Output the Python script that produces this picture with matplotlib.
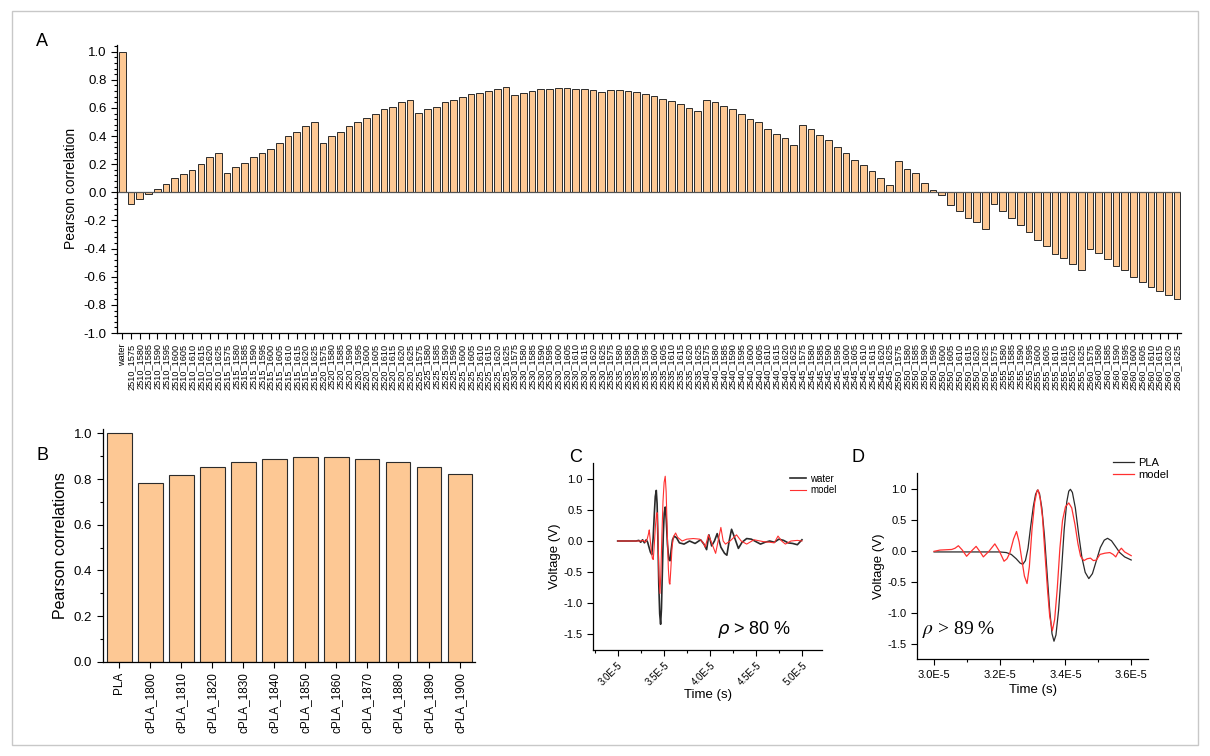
import numpy as np
import matplotlib
matplotlib.use('Agg')
import matplotlib.pyplot as plt
from matplotlib.ticker import AutoMinorLocator, MultipleLocator, FuncFormatter
from matplotlib.patches import Rectangle

plt.rcParams['font.family'] = ['Liberation Sans', 'DejaVu Sans']

# ---- panel A: correlation per parameter pair ----
groups = [2510, 2515, 2520, 2525, 2530, 2535, 2540, 2545, 2550, 2555, 2560]
subs = [1575, 1580, 1585, 1590, 1595, 1600, 1605, 1610, 1615, 1620, 1625]
labels_a = ['water'] + [f'{g}_{s}' for g in groups for s in subs]

corr_water = [1.0]
corr_2510 = [-0.08, -0.05, -0.01, 0.024, 0.059, 0.10, 0.13, 0.16, 0.20, 0.25, 0.28]
corr_2515 = [0.137, 0.18, 0.21, 0.25, 0.28, 0.31, 0.35, 0.40, 0.43, 0.47, 0.50]
corr_2520 = [0.35, 0.40, 0.43, 0.47, 0.50, 0.53, 0.56, 0.59, 0.61, 0.64, 0.66]
corr_2525 = [0.565, 0.59, 0.61, 0.64, 0.66, 0.68, 0.70, 0.71, 0.72, 0.733, 0.747]
corr_2530 = [0.69, 0.71, 0.72, 0.733, 0.738, 0.74, 0.74, 0.738, 0.733, 0.726, 0.714]
corr_2535 = [0.726, 0.726, 0.72, 0.714, 0.70, 0.686, 0.667, 0.65, 0.63, 0.60, 0.577]
corr_2540 = [0.66, 0.64, 0.617, 0.59, 0.56, 0.52, 0.50, 0.45, 0.416, 0.39, 0.34]
corr_2545 = [0.478, 0.45, 0.41, 0.37, 0.32, 0.28, 0.23, 0.196, 0.149, 0.10, 0.05]
corr_2550 = [0.22, 0.168, 0.135, 0.07, 0.02, -0.02, -0.09, -0.13, -0.18, -0.21, -0.26]
corr_2555 = [-0.085, -0.13, -0.18, -0.23, -0.28, -0.34, -0.38, -0.44, -0.47, -0.51, -0.555]
corr_2560 = [-0.40, -0.43, -0.475, -0.525, -0.555, -0.605, -0.636, -0.67, -0.70, -0.73, -0.76]
corr_a = (corr_water + corr_2510 + corr_2515 + corr_2520 + corr_2525 + corr_2530
          + corr_2535 + corr_2540 + corr_2545 + corr_2550 + corr_2555 + corr_2560)

# ---- panel B ----
labels_b = ['PLA', 'cPLA_1800', 'cPLA_1810', 'cPLA_1820', 'cPLA_1830', 'cPLA_1840',
            'cPLA_1850', 'cPLA_1860', 'cPLA_1870', 'cPLA_1880', 'cPLA_1890', 'cPLA_1900']
corr_b = [1.0, 0.781, 0.819, 0.851, 0.873, 0.888, 0.896, 0.896, 0.888, 0.873, 0.851, 0.823]

# ---- panel C: water signal vs model (time in 1E-5 s) ----
water_t = [3.00, 3.20, 3.23, 3.25, 3.27, 3.29, 3.31, 3.325, 3.34, 3.355, 3.37, 3.385,
           3.398, 3.408, 3.419, 3.428, 3.437, 3.446, 3.456, 3.466, 3.475, 3.485, 3.495,
           3.505, 3.516, 3.527, 3.54, 3.555, 3.568, 3.58, 3.595, 3.615, 3.64, 3.67,
           3.72, 3.78, 3.84, 3.90, 3.94, 3.965, 3.99, 4.02, 4.05, 4.08, 4.12, 4.16,
           4.185, 4.21, 4.236, 4.27, 4.31, 4.35, 4.40, 4.45, 4.50, 4.55, 4.60, 4.65,
           4.70, 4.75, 4.80, 4.85, 4.90, 4.95, 5.00]
water_v = [0.0, 0.0, 0.01, -0.02, 0.02, -0.03, 0.02, -0.02, -0.10, -0.18, -0.22, 0.05,
           0.45, 0.72, 0.82, 0.60, 0.0, -0.70, -1.18, -1.35, -1.10, -0.50, 0.10,
           0.45, 0.55, 0.35, -0.05, -0.30, -0.32, -0.15, 0.02, 0.08, 0.05, -0.03,
           -0.05, 0.0, -0.04, 0.02, -0.06, -0.14, 0.1, -0.08, 0.0, 0.12, -0.1, -0.2,
           -0.23, 0.0, 0.19, 0.05, -0.12, -0.02, 0.04, 0.03, -0.01, -0.05, -0.02, 0.0,
           -0.02, 0.03, 0.01, -0.03, -0.04, -0.06, 0.02]
model_c_t = [3.00, 3.25, 3.28, 3.30, 3.32, 3.335, 3.343, 3.353, 3.365, 3.376, 3.386,
             3.398, 3.41, 3.422, 3.429, 3.437, 3.448, 3.459, 3.468, 3.48, 3.492, 3.504,
             3.516, 3.526, 3.538, 3.55, 3.56, 3.567, 3.577, 3.59, 3.605, 3.629, 3.65,
             3.70, 3.75, 3.82, 3.89, 3.93, 3.95, 3.985, 4.02, 4.063, 4.09, 4.12, 4.145,
             4.17, 4.22, 4.29, 4.34, 4.40, 4.48, 4.58, 4.65, 4.70, 4.74, 4.78, 4.82,
             4.88, 4.95, 5.00]
model_c_v = [0.0, 0.0, 0.01, -0.02, 0.03, 0.12, 0.18, 0.02, -0.15, -0.28, -0.30,
             -0.05, 0.25, 0.45, 0.46, 0.10, -0.55, -0.85, -0.55, 0.10, 0.65, 0.95,
             1.05, 0.80, 0.15, -0.45, -0.68, -0.70, -0.45, -0.10, 0.07, 0.13, 0.06,
             0.0, 0.03, 0.04, 0.03, -0.03, -0.1, 0.1, -0.03, -0.2, 0.0, 0.22, 0.0,
             -0.05, 0.0, 0.1, 0.0, -0.05, 0.02, -0.01, -0.02, -0.03, 0.08, 0.0, -0.05,
             0.0, 0.01, 0.0]

# ---- panel D: PLA signal vs model ----
pla_t = [3.000, 3.100, 3.200, 3.220, 3.235, 3.250, 3.262, 3.270, 3.278, 3.286, 3.294,
         3.302, 3.309, 3.315, 3.321, 3.328, 3.336, 3.344, 3.352, 3.359, 3.365, 3.371,
         3.379, 3.388, 3.396, 3.404, 3.410, 3.415, 3.421, 3.430, 3.440, 3.450, 3.460,
         3.471, 3.482, 3.494, 3.506, 3.518, 3.528, 3.540, 3.552, 3.565, 3.580, 3.600]
pla_v = [-0.01, -0.01, -0.01, -0.02, -0.05, -0.12, -0.19, -0.21, -0.15, 0.05, 0.40,
         0.72, 0.92, 0.99, 0.93, 0.70, 0.25, -0.35, -0.95, -1.33, -1.45, -1.35,
         -0.95, -0.30, 0.35, 0.80, 0.97, 1.0, 0.95, 0.70, 0.28, -0.10, -0.34,
         -0.44, -0.36, -0.15, 0.06, 0.18, 0.21, 0.17, 0.08, -0.02, -0.09, -0.14]
model_d_t = [3.000, 3.018, 3.054, 3.064, 3.074, 3.086, 3.099, 3.113, 3.128, 3.139,
             3.150, 3.167, 3.185, 3.199, 3.213, 3.222, 3.231, 3.242, 3.251, 3.259,
             3.267, 3.275, 3.283, 3.290, 3.298, 3.306, 3.313, 3.317, 3.323, 3.330,
             3.337, 3.345, 3.352, 3.360, 3.367, 3.375, 3.383, 3.391, 3.400, 3.410,
             3.419, 3.429, 3.438, 3.446, 3.456, 3.466, 3.476, 3.485, 3.494, 3.505,
             3.520, 3.535, 3.545, 3.553, 3.562, 3.570, 3.580, 3.600]
model_d_v = [0.0, 0.02, 0.03, 0.05, 0.09, 0.02, -0.08, 0.0, 0.08, 0.0,
             -0.09, 0.0, 0.12, 0.0, -0.16, -0.12, -0.02, 0.20, 0.32, 0.15,
             -0.13, -0.40, -0.52, -0.25, 0.35, 0.78, 0.97, 0.99, 0.85, 0.55,
             0.0, -0.60, -1.05, -1.28, -1.10, -0.60, 0.05, 0.50, 0.72, 0.78,
             0.70, 0.43, 0.12, -0.08, -0.15, -0.12, -0.11, -0.15, -0.14, -0.05,
             -0.03, -0.02, -0.05, -0.09, 0.0, 0.05, -0.01, -0.07]

bar_face = '#fdc894'
bar_edge = '#2b2b2b'

fig = plt.figure(figsize=(12.1, 7.56), dpi=100)
fig.patches.append(Rectangle((12 / 1210, 11 / 756), 1186 / 1210, 734 / 756,
                             transform=fig.transFigure, fill=False,
                             edgecolor='#c8c8c8', lw=1.0))


def style_axes(ax):
    for side in ('top', 'right'):
        ax.spines[side].set_visible(False)
    for side in ('left', 'bottom'):
        ax.spines[side].set_linewidth(0.9)
    ax.tick_params(which='both', direction='out', width=0.8)
    ax.tick_params(which='major', length=4)
    ax.tick_params(which='minor', length=2)


# Panel A
axA = fig.add_axes([0.0967, 0.5595, 0.879, 0.3814])
xa = np.arange(len(corr_a))
axA.bar(xa, corr_a, width=0.77, color=bar_face, edgecolor=bar_edge, linewidth=0.7)
axA.axhline(0, color='#555555', lw=0.9)
axA.set_xlim(-0.62, len(corr_a) - 0.6)
axA.set_ylim(-1.0, 1.05)
axA.yaxis.set_major_locator(MultipleLocator(0.2))
axA.yaxis.set_minor_locator(AutoMinorLocator(5))
axA.yaxis.set_major_formatter(FuncFormatter(lambda v, p: f'{v:.1f}'))
axA.set_xticks(xa)
axA.set_xticklabels(labels_a, rotation=90, fontsize=6.6)
axA.tick_params(axis='y', labelsize=9.5)
axA.set_ylabel('Pearson correlation', fontsize=10, labelpad=4)
style_axes(axA)

# Panel B
axB = fig.add_axes([0.0849, 0.1247, 0.3077, 0.308])
xb = np.arange(len(corr_b))
axB.bar(xb, corr_b, width=0.79, color=bar_face, edgecolor=bar_edge, linewidth=0.8)
axB.set_xlim(-0.54, len(corr_b) - 0.52)
axB.set_ylim(0, 1.02)
axB.yaxis.set_major_locator(MultipleLocator(0.2))
axB.yaxis.set_minor_locator(MultipleLocator(0.1))
axB.yaxis.set_major_formatter(FuncFormatter(lambda v, p: f'{v:.1f}'))
axB.set_xticks(xb)
axB.set_xticklabels(labels_b, rotation=90, fontsize=8.5)
axB.tick_params(axis='y', labelsize=9.5)
axB.set_ylabel('Pearson correlations', fontsize=11.5, labelpad=4)
style_axes(axB)

e5 = FuncFormatter(lambda v, p: f'{v:.1f}E-5')

# Panel C
axC = fig.add_axes([0.4903, 0.1402, 0.189, 0.247])
axC.plot(water_t, water_v, color='#2a2a2a', lw=1.2, label='water')
axC.plot(model_c_t, model_c_v, color='#ff3030', lw=0.8, label='model')
axC.set_xlim(2.735, 5.217)
axC.set_ylim(-1.767, 1.26)
axC.xaxis.set_major_locator(MultipleLocator(0.5))
axC.xaxis.set_minor_locator(MultipleLocator(0.25))
axC.xaxis.set_major_formatter(e5)
axC.yaxis.set_major_locator(MultipleLocator(0.5))
axC.yaxis.set_major_formatter(FuncFormatter(lambda v, p: f'{v:.1f}'))
for lab in axC.get_xticklabels():
    lab.set_rotation(45)
    lab.set_ha('right')
    lab.set_rotation_mode('anchor')
axC.tick_params(axis='x', labelsize=7)
axC.tick_params(axis='y', labelsize=8)
axC.set_xlabel('Time (s)', fontsize=9.5, labelpad=1)
axC.set_ylabel('Voltage (V)', fontsize=9.5, labelpad=2)
style_axes(axC)
axC.legend(loc='upper left', bbox_to_anchor=(785 / 1210, 1 - 469 / 756),
           bbox_transform=fig.transFigure, frameon=False, fontsize=7,
           handlelength=1.7, handletextpad=0.4, labelspacing=0.15, borderpad=0)
fig.text(717 / 1210, 1 - 630 / 756, r'$\rho$ > 80 %', fontsize=13, va='center')

# Panel D
axD = fig.add_axes([0.7581, 0.1279, 0.1909, 0.246])
axD.plot(pla_t, pla_v, color='#2a2a2a', lw=0.9, label='PLA')
axD.plot(model_d_t, model_d_v, color='#ff3030', lw=0.9, label='model')
axD.set_xlim(2.949, 3.652)
axD.set_ylim(-1.742, 1.258)
axD.xaxis.set_major_locator(MultipleLocator(0.2))
axD.xaxis.set_minor_locator(MultipleLocator(0.1))
axD.xaxis.set_major_formatter(e5)
axD.yaxis.set_major_locator(MultipleLocator(0.5))
axD.yaxis.set_major_formatter(FuncFormatter(lambda v, p: f'{v:.1f}'))
axD.tick_params(axis='x', labelsize=8)
axD.tick_params(axis='y', labelsize=8)
axD.set_xlabel('Time (s)', fontsize=9.5, labelpad=3)
axD.set_ylabel('Voltage (V)', fontsize=9.5, labelpad=2)
style_axes(axD)
axD.legend(loc='upper left', bbox_to_anchor=(1107 / 1210, 1 - 452 / 756),
           bbox_transform=fig.transFigure, frameon=False, fontsize=8,
           handlelength=1.9, handletextpad=0.4, labelspacing=0.2, borderpad=0)
fig.text(922 / 1210, 1 - 630 / 756, r'$\rho$ > 89 %', fontsize=14, va='center',
         family='Liberation Serif', math_fontfamily='stix')

# panel letters
for letter, x, y in [('A', 42, 42), ('B', 42, 455), ('C', 576, 457), ('D', 858, 457)]:
    fig.text(x / 1210, 1 - y / 756, letter, fontsize=13, ha='center', va='center')

fig.savefig('out.png', dpi=100)
